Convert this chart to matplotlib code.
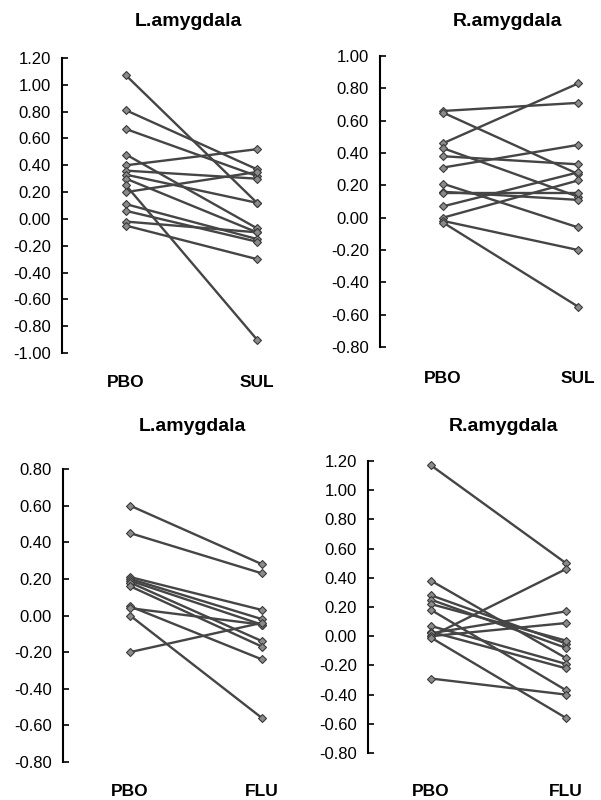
import matplotlib
matplotlib.use("Agg")
import matplotlib.pyplot as plt

# top left: L.amygdala, PBO vs SUL
pbo_l_sul = [1.07, 0.81, 0.67, 0.48, 0.40, 0.36, 0.33, 0.30, 0.25, 0.20, 0.11, 0.06, -0.02, -0.05]
sul_l = [0.12, 0.37, 0.32, -0.07, 0.52, 0.30, 0.12, -0.10, -0.90, 0.35, -0.15, -0.17, -0.10, -0.30]

# top right: R.amygdala, PBO vs SUL
pbo_r_sul = [0.66, 0.65, 0.46, 0.43, 0.38, 0.31, 0.21, 0.16, 0.15, 0.07, 0.00, -0.02, -0.03]
sul_r = [0.71, 0.27, 0.83, 0.13, 0.33, 0.45, -0.06, 0.11, 0.15, 0.28, 0.23, -0.20, -0.55]

# bottom left: L.amygdala, PBO vs FLU
pbo_l_flu = [0.60, 0.45, 0.21, 0.20, 0.19, 0.18, 0.16, 0.05, 0.04, 0.00, -0.20]
flu_l = [0.28, 0.23, 0.03, -0.02, -0.05, -0.14, -0.17, -0.24, -0.05, -0.56, -0.04]

# bottom right: R.amygdala, PBO vs FLU
pbo_r_flu = [1.17, 0.00, 0.38, 0.28, 0.25, 0.22, 0.18, 0.07, 0.03, 0.02, 0.00, -0.01, -0.29]
flu_r = [0.50, 0.46, -0.15, -0.05, -0.08, -0.03, -0.37, -0.19, -0.22, 0.17, 0.09, -0.56, -0.40]

W, H = 601, 800
plt.rcParams['font.family'] = ['Liberation Sans', 'DejaVu Sans']
fig = plt.figure(figsize=(W / 100, H / 100), dpi=100)


def px_axes(left, top, right, bottom):
    return fig.add_axes([left / W, 1 - bottom / H, (right - left) / W, (bottom - top) / H])


def draw_panel(ax, before, after, xlabels, yticks, xlim, xpad):
    for b, a in zip(before, after):
        ax.plot([0, 1], [b, a], color='#454545', lw=1.7,
                marker='D', ms=4.5, mfc='#8a8a8a', mec='#3a3a3a', mew=0.8)
    ax.set_xlim(*xlim)
    ax.set_ylim(yticks[0], yticks[-1])
    ax.set_yticks(yticks)
    ax.set_yticklabels(['%.2f' % t for t in yticks], fontsize=12)
    ax.set_xticks([0, 1])
    ax.set_xticklabels(xlabels, fontsize=12.5, fontweight='bold')
    ax.tick_params(axis='x', length=0, pad=xpad)
    ax.tick_params(axis='y', direction='in', length=4, width=1.2, pad=8)
    for side in ['top', 'right', 'bottom']:
        ax.spines[side].set_visible(False)
    ax.spines['left'].set_linewidth(1.5)
    ax.patch.set_alpha(0)


yt1 = [-1.0, -0.8, -0.6, -0.4, -0.2, 0.0, 0.2, 0.4, 0.6, 0.8, 1.0, 1.2]
yt2 = [-0.8, -0.6, -0.4, -0.2, 0.0, 0.2, 0.4, 0.6, 0.8, 1.0]
yt3 = [-0.8, -0.6, -0.4, -0.2, 0.0, 0.2, 0.4, 0.6, 0.8]
yt4 = [-0.8, -0.6, -0.4, -0.2, 0.0, 0.2, 0.4, 0.6, 0.8, 1.0, 1.2]

ax1 = px_axes(62, 58, 290, 353)
draw_panel(ax1, pbo_l_sul, sul_l, ['PBO', 'SUL'], yt1, (-0.489, 1.252), 15.5)

ax2 = px_axes(380, 56, 600, 347)
draw_panel(ax2, pbo_r_sul, sul_r, ['PBO', 'SUL'], yt2, (-0.467, 1.163), 17.5)

ax3 = px_axes(63, 469, 290, 762)
draw_panel(ax3, pbo_l_flu, flu_l, ['PBO', 'FLU'], yt3, (-0.508, 1.212), 16)

ax4 = px_axes(368, 461, 600, 753)
draw_panel(ax4, pbo_r_flu, flu_r, ['PBO', 'FLU'], yt4, (-0.467, 1.252), 22.5)

title_kw = dict(fontsize=14, fontweight='bold', ha='center', va='center')
fig.text(188 / W, 1 - 22 / H, 'L.amygdala', **title_kw)
fig.text(508 / W, 1 - 22 / H, 'R.amygdala', **title_kw)
fig.text(192 / W, 1 - 427 / H, 'L.amygdala', **title_kw)
fig.text(503 / W, 1 - 427 / H, 'R.amygdala', **title_kw)

fig.savefig('out.png', dpi=100, facecolor='white')
